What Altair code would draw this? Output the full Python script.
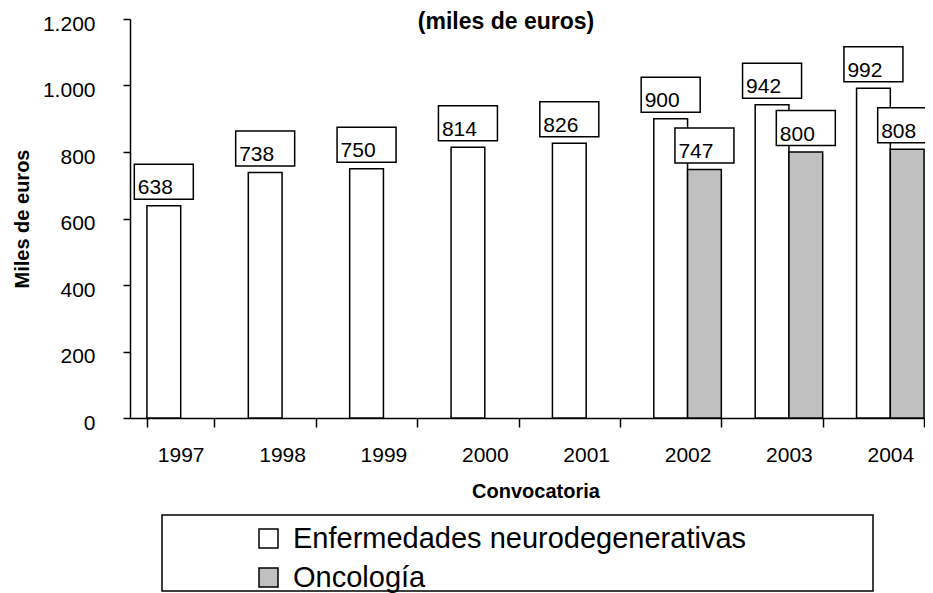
import altair as alt
import pandas as pd

# ---- data ----
years = ["1997", "1998", "1999", "2000", "2001", "2002", "2003", "2004"]
neuro = [638, 738, 750, 814, 826, 900, 942, 992]
onco_years = ["2002", "2003", "2004"]
onco = [747, 800, 808]
series = ["Enfermedades neurodegenerativas", "Oncología"]
series_colors = ["white", "#C0C0C0"]
y_ticks = [0, 200, 400, 600, 800, 1000, 1200]
title_text = "(miles de euros)"
x_title = "Convocatoria"
y_title = "Miles de euros"

rows = [{"year": yv, "serie": series[0], "value": v} for yv, v in zip(years, neuro)]
rows += [{"year": yv, "serie": series[1], "value": v} for yv, v in zip(onco_years, onco)]
df = pd.DataFrame(rows)

FONT = "Liberation Sans"
W, H = 795, 399          # drawn width (page is 933 px wide)
X_RANGE = 811            # the category axis runs past the right edge, as in the reference

x_enc = alt.X(
    "year:N", sort=years,
    scale=alt.Scale(domain=years, range=[0, X_RANGE], paddingInner=0.334, paddingOuter=0.167),
    axis=alt.Axis(
        title=x_title, labelAngle=0, tickBand="extent", tickSize=9, tickWidth=1.5,
        tickColor="black", domainColor="black", domainWidth=1.5, grid=False,
        labelFontSize=21, labelColor="black", labelPadding=28, labelBaseline="middle",
        titleFontSize=20, titleFontWeight="bold", titleColor="black",
        titleX=X_RANGE / 2, titleY=73, titleBaseline="middle", titleAlign="center",
    ),
)
xo_enc = alt.XOffset("serie:N", sort=series,
                     scale=alt.Scale(domain=series, paddingInner=0, paddingOuter=0))
y_enc = alt.Y(
    "value:Q",
    scale=alt.Scale(domain=[0, 1200], nice=False),
    axis=alt.Axis(
        values=y_ticks, title=y_title, grid=False,
        labelExpr="replace(format(datum.value, ','), ',', '.')",
        tickSize=7, tickWidth=1.5, tickColor="black", domainColor="black", domainWidth=1.5,
        labelFontSize=21, labelColor="black", labelPadding=28, labelOffset=5,
        titleFontSize=20, titleFontWeight="bold", titleColor="black",
        titleAngle=-90, titleX=-108, titleY=H / 2, titleBaseline="middle", titleAlign="center",
    ),
)

base = alt.Chart(df)

bars = base.mark_bar(stroke="black", strokeWidth=1.5).encode(
    x=x_enc, xOffset=xo_enc, y=y_enc,
    fill=alt.Fill(
        "serie:N",
        scale=alt.Scale(domain=series, range=series_colors),
        legend=alt.Legend(
            orient="none", legendX=124, legendY=505, title=None,
            symbolType="square", symbolSize=361, symbolStrokeColor="black",
            symbolStrokeWidth=1.5,
            labelFontSize=29, labelColor="black", labelOffset=10, labelLimit=2000,
            rowPadding=9, padding=0,
        ),
    ),
)

BOX = "M-2.95,-4.15L2.95,-4.15L2.95,-0.65L-2.95,-0.65Z"
boxes = base.mark_point(
    shape=BOX, size=400, filled=True, fill="white", stroke="black",
    strokeWidth=1.5, opacity=1, fillOpacity=1, strokeOpacity=1,
).encode(x=x_enc, xOffset=xo_enc, y=y_enc)

labels = base.mark_text(
    align="left", baseline="alphabetic", dx=-26, dy=-11.5, fontSize=21, color="black",
).encode(x=x_enc, xOffset=xo_enc, y=y_enc, text=alt.Text("value:Q"))

# legend frame
frame = alt.Chart(alt.Data(values=[{"k": 0}])).mark_rect(
    fill="transparent", stroke="black", strokeWidth=1.5
).encode(x=alt.value(32), x2=alt.value(743), y=alt.value(496), y2=alt.value(572))

# chart title (kept fully visible just under the top edge)
title = alt.Chart(alt.Data(values=[{"t": title_text}])).mark_text(
    fontSize=23, fontWeight="bold", color="black", align="center", baseline="alphabetic"
).encode(x=alt.value(376), y=alt.value(10), text="t:N")

chart = (
    alt.layer(bars, boxes, labels, frame, title)
    .properties(
        width=W, height=H,
        autosize=alt.AutoSizeParams(type="none"),
        padding={"left": 122, "top": 11, "right": 0, "bottom": 178},
    )
    .configure(font=FONT)
    .configure_view(stroke=None)
)

chart.save("out.html", embed_options={"renderer": "svg", "actions": False})
